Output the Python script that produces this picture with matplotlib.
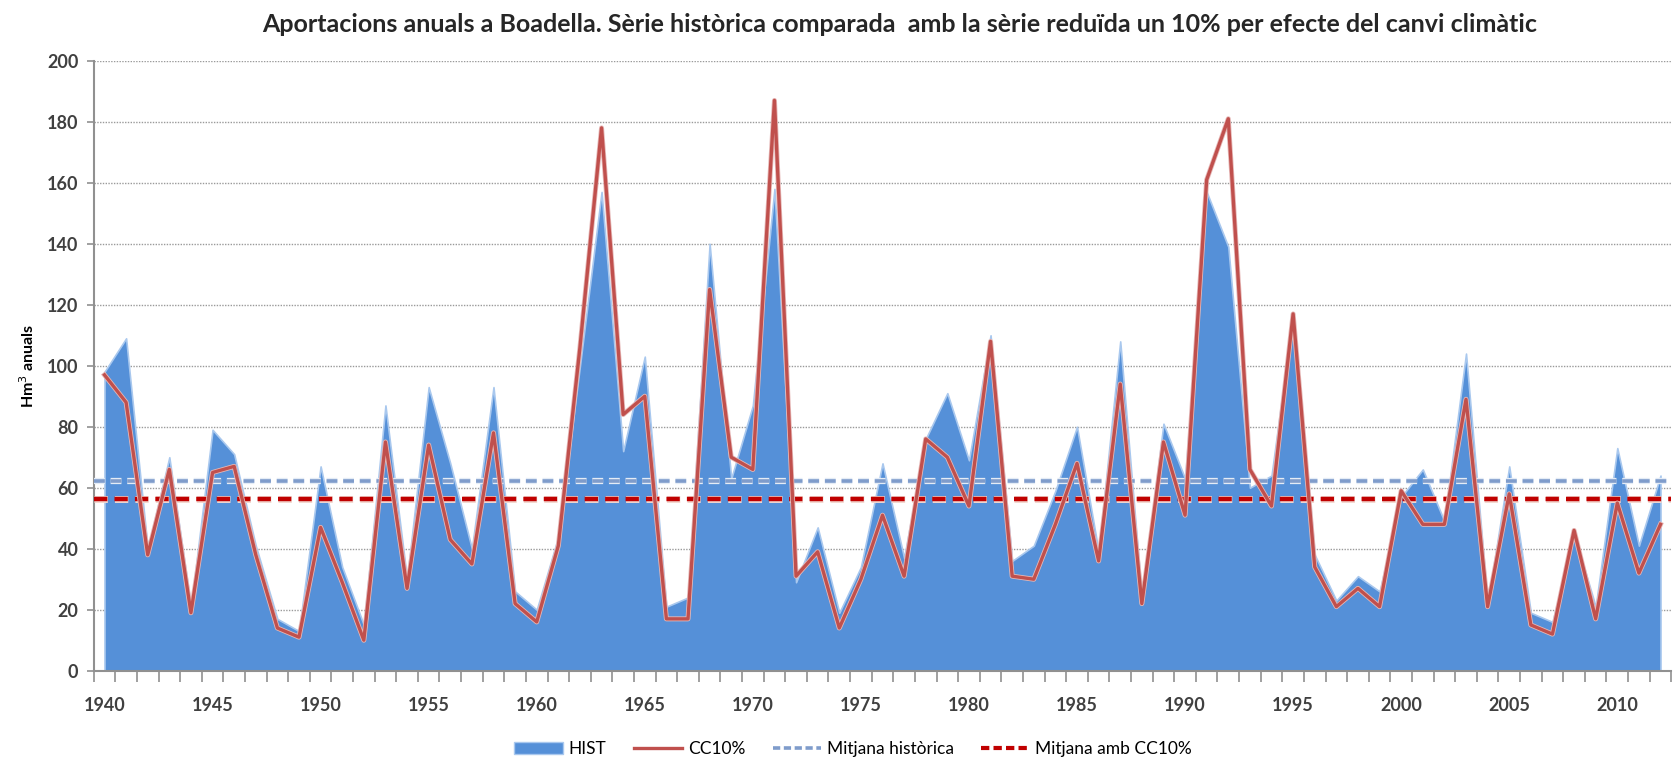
import matplotlib
matplotlib.use("Agg")
import matplotlib.pyplot as plt
import matplotlib.patheffects as pe
from matplotlib.lines import Line2D
from matplotlib.patches import Patch
import numpy as np

years = list(range(1940, 2013))
hist = [98, 109, 40, 70, 21, 79, 71, 41, 17, 13,
        67, 34, 15, 87, 30, 93, 68, 40, 93, 26,
        20, 44, 100, 157, 72, 103, 21, 24, 140, 63,
        87, 158, 29, 47, 19, 34, 68, 37, 76, 91,
        69, 110, 36, 41, 59, 80, 39, 108, 24, 81,
        63, 157, 139, 60, 64, 117, 38, 23, 31, 26,
        57, 66, 49, 104, 22, 67, 19, 16, 45, 21,
        73, 41, 64]
cc10 = [97, 88, 38, 66, 19, 65, 67, 38, 14, 11,
        47, 29, 10, 75, 27, 74, 43, 35, 78, 22,
        16, 41, 106, 178, 84, 90, 17, 17, 125, 70,
        66, 187, 31, 39, 14, 30, 51, 31, 76, 70,
        54, 108, 31, 30, 48, 68, 36, 94, 22, 75,
        51, 161, 181, 66, 54, 117, 34, 21, 27, 21,
        59, 48, 48, 89, 21, 58, 15, 12, 46, 17,
        55, 32, 48]
mean_hist = 62.2
mean_cc = 56.3
year_labels = list(range(1940, 2011, 5))
y_ticks = list(range(0, 201, 20))

title = "Aportacions anuals a Boadella. Sèrie històrica comparada  amb la sèrie reduïda un 10% per efecte del canvi climàtic"
ylabel = "Hm$^3$ anuals"
legend_labels = ["HIST", "CC10%", "Mitjana històrica", "Mitjana amb CC10%"]

plt.rcParams['font.family'] = ['Lato', 'DejaVu Sans']

BLUE = "#5590D8"
RED = "#C0504D"
MEAN_BLUE = "#7F9CCB"
MEAN_RED = "#C00000"

fig = plt.figure(figsize=(16.73, 7.60), dpi=100)
ax = fig.add_axes([0.056, 0.1175, 0.943, 0.8025])

x = np.array(years)
ax.fill_between(x, 0, hist, color=BLUE, edgecolor="#A9C8EE", linewidth=1.2, zorder=2)

ax.plot([x[0] - 0.5, x[-1] + 0.5], [mean_hist, mean_hist], color=MEAN_BLUE, lw=2.6,
        dashes=(3, 1.6), zorder=3,
        path_effects=[pe.Stroke(linewidth=4.5, foreground="#E4ECF6"), pe.Normal()])
ax.plot([x[0] - 0.5, x[-1] + 0.5], [mean_cc, mean_cc], color=MEAN_RED, lw=3.2,
        dashes=(3, 1.6), zorder=3,
        path_effects=[pe.Stroke(linewidth=5, foreground="#F2D8D0"), pe.Normal()])
ax.plot(x, cc10, color=RED, lw=2.4, zorder=4,
        path_effects=[pe.Stroke(linewidth=3.6, foreground="#E6B8B7"), pe.Normal()])

ax.set_xlim(1939.5, 2012.5)
ax.set_ylim(0, 200)
ax.set_yticks(y_ticks)
ax.set_yticklabels([str(v) for v in y_ticks], fontsize=13, fontweight="bold", color="#404040")
ax.set_xticks(np.arange(1939.5, 2013.0, 1.0))
ax.set_xticklabels([])
ax.set_xticks(year_labels, minor=True)
ax.set_xticklabels([str(v) for v in year_labels], minor=True, fontsize=13,
                   fontweight="bold", color="#404040")
ax.tick_params(axis="x", which="major", direction="out", length=8, color="#909090", width=1.2)
ax.tick_params(axis="x", which="minor", length=0, pad=19)
ax.tick_params(axis="y", direction="out", length=5, color="#909090", width=1.2, pad=6)

ax.grid(axis="y", color="#9A9A9A", linestyle=(0, (1, 1)), linewidth=1.0, zorder=1)
ax.set_axisbelow(True)
for s in ["top", "right"]:
    ax.spines[s].set_visible(False)
for s in ["left", "bottom"]:
    ax.spines[s].set_color("#909090")
    ax.spines[s].set_linewidth(1.5)

ax.set_ylabel(ylabel, fontsize=11.5, fontweight="bold")
ax.yaxis.set_label_coords(-0.036, 0.5)

fig.text(0.538, 0.968, title, ha="center", va="center", fontsize=18, fontweight="bold",
         color="#262626")

handles = [Patch(facecolor=BLUE, edgecolor="#A9C8EE"),
           Line2D([], [], color=RED, lw=2.4),
           Line2D([], [], color=MEAN_BLUE, lw=2.6, dashes=(2, 1)),
           Line2D([], [], color=MEAN_RED, lw=3.0, dashes=(2, 1))]
fig.legend(handles, legend_labels, loc="center", bbox_to_anchor=(0.51, 0.014), ncol=4,
           frameon=False, fontsize=12.5, handlelength=2.8, columnspacing=1.6, handletextpad=0.3,
           borderpad=0.1)

fig.savefig("out.png", dpi=100)
